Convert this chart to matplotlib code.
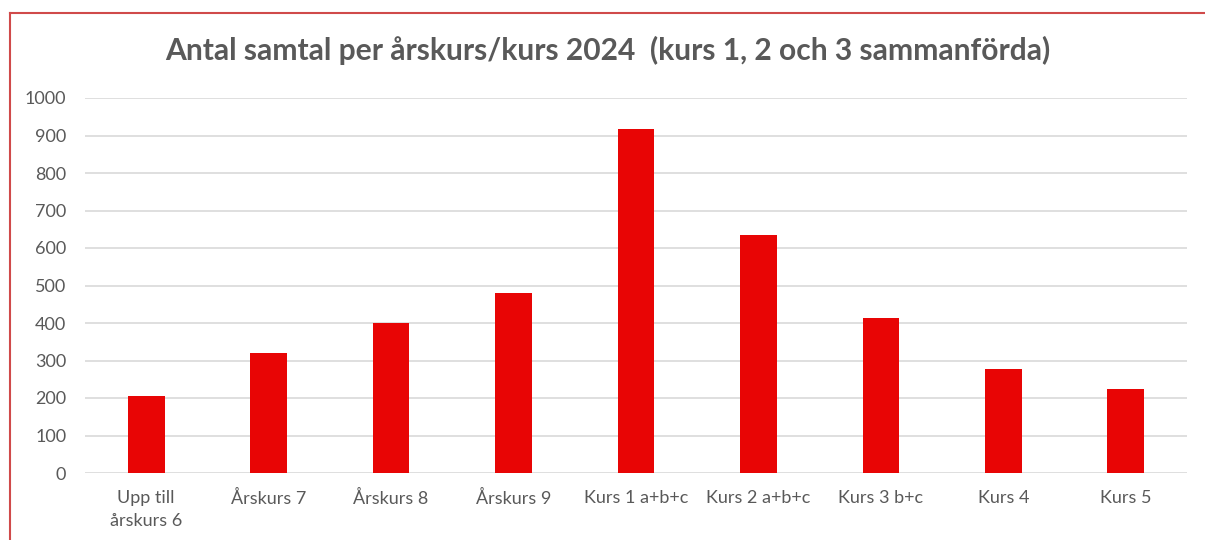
import matplotlib
matplotlib.use("Agg")
import matplotlib.pyplot as plt
from matplotlib.lines import Line2D

categories = ["Upp till\nårskurs 6", "Årskurs 7", "Årskurs 8", "Årskurs 9",
              "Kurs 1 a+b+c", "Kurs 2 a+b+c", "Kurs 3 b+c", "Kurs 4", "Kurs 5"]
values = [205, 320, 400, 480, 917, 635, 413, 277, 224]
yticks = [0, 100, 200, 300, 400, 500, 600, 700, 800, 900, 1000]
title = "Antal samtal per årskurs/kurs 2024  (kurs 1, 2 och 3 sammanförda)"

plt.rcParams['font.family'] = ['Lato', 'DejaVu Sans']
W, H = 1205, 540
fig = plt.figure(figsize=(W / 100, H / 100), dpi=100)
ax = fig.add_axes([85 / W, 1 - 473 / H, (1187 - 85) / W, (473 - 98) / H])

x = list(range(len(categories)))
ax.bar(x, values, width=0.30, color="#e80505", zorder=3)
ax.set_xlim(-0.5, len(categories) - 0.5)
ax.set_ylim(0, 1000)
ax.set_yticks(yticks)
ax.set_yticklabels([str(t) for t in yticks])
ax.set_xticks(x)
ax.set_xticklabels(categories, linespacing=1.55)
ax.grid(axis="y", color="#d9d9d9", linewidth=1.2, zorder=0)
for s in ax.spines.values():
    s.set_visible(False)
ax.tick_params(axis="both", length=0, labelsize=13, labelcolor="#595959")
ax.tick_params(axis="y", pad=13.5)
ax.tick_params(axis="x", pad=12)

fig.text(608 / W, 1 - 50 / H, title, ha="center", va="center",
         fontsize=21.6, fontweight="bold", color="#595959")

# partial red border
fig.add_artist(Line2D([10 / W, 1], [1 - 13 / H, 1 - 13 / H], transform=fig.transFigure,
                      color="#d04a4a", linewidth=1.5))
fig.add_artist(Line2D([10 / W, 10 / W], [1 - 13 / H, 0], transform=fig.transFigure,
                      color="#d04a4a", linewidth=1.5))

fig.savefig("out.png", dpi=100)
